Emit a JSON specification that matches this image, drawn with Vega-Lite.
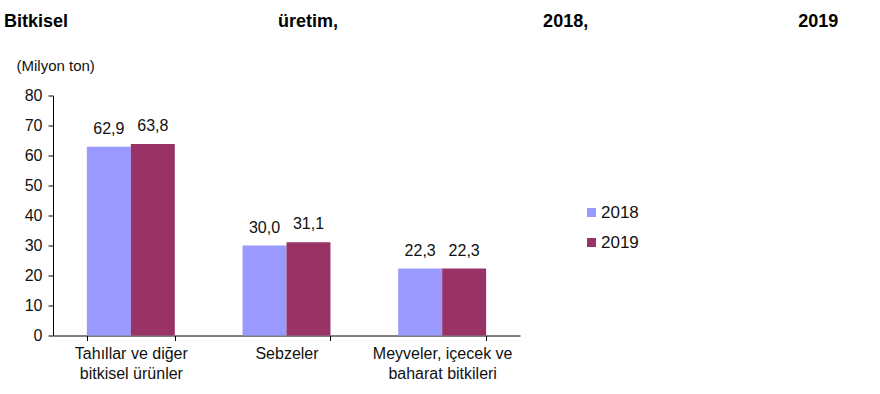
{
  "$schema": "https://vega.github.io/schema/vega-lite/v6.json",
  "width": 467,
  "height": 240,
  "autosize": "none",
  "padding": {"left": 53, "top": 95.5, "right": 360, "bottom": 58.5},
  "background": "white",
  "title": {
    "text": "Bitkisel\u00a0\u00a0\u00a0\u00a0\u00a0\u00a0\u00a0\u00a0\u00a0\u00a0\u00a0\u00a0\u00a0\u00a0\u00a0\u00a0\u00a0\u00a0\u00a0\u00a0\u00a0\u00a0\u00a0\u00a0\u00a0\u00a0\u00a0\u00a0\u00a0\u00a0\u00a0\u00a0\u00a0\u00a0\u00a0\u00a0\u00a0\u00a0\u00a0\u00a0\u00a0\u00a0üretim,\u00a0\u00a0\u00a0\u00a0\u00a0\u00a0\u00a0\u00a0\u00a0\u00a0\u00a0\u00a0\u00a0\u00a0\u00a0\u00a0\u00a0\u00a0\u00a0\u00a0\u00a0\u00a0\u00a0\u00a0\u00a0\u00a0\u00a0\u00a0\u00a0\u00a0\u00a0\u00a0\u00a0\u00a0\u00a0\u00a0\u00a0\u00a0\u00a0\u00a0\u00a02018,\u00a0\u00a0\u00a0\u00a0\u00a0\u00a0\u00a0\u00a0\u00a0\u00a0\u00a0\u00a0\u00a0\u00a0\u00a0\u00a0\u00a0\u00a0\u00a0\u00a0\u00a0\u00a0\u00a0\u00a0\u00a0\u00a0\u00a0\u00a0\u00a0\u00a0\u00a0\u00a0\u00a0\u00a0\u00a0\u00a0\u00a0\u00a0\u00a0\u00a0\u00a0\u00a02019",
    "anchor": "start",
    "frame": "group",
    "font": "Liberation Sans",
    "fontSize": 18,
    "fontWeight": "bold",
    "color": "#000000",
    "dx": -49,
    "offset": 27
  },
  "data": {
    "values": [
      {"cat": "Tahıllar ve diğer|bitkisel ürünler", "year": "2018", "value": 62.9, "label": "62,9"},
      {"cat": "Tahıllar ve diğer|bitkisel ürünler", "year": "2019", "value": 63.8, "label": "63,8"},
      {"cat": "Sebzeler", "year": "2018", "value": 30.0, "label": "30,0"},
      {"cat": "Sebzeler", "year": "2019", "value": 31.1, "label": "31,1"},
      {"cat": "Meyveler, içecek ve|baharat bitkileri", "year": "2018", "value": 22.3, "label": "22,3"},
      {"cat": "Meyveler, içecek ve|baharat bitkileri", "year": "2019", "value": 22.3, "label": "22,3"}
    ]
  },
  "encoding": {
    "x": {
      "field": "cat",
      "type": "nominal",
      "sort": ["Tahıllar ve diğer|bitkisel ürünler", "Sebzeler", "Meyveler, içecek ve|baharat bitkileri"],
      "scale": {"paddingInner": 0.435, "paddingOuter": 0.2175},
      "axis": {
        "title": null,
        "labelAngle": 0,
        "labelExpr": "split(datum.label, '|')",
        "tickBand": "extent",
        "labelFontSize": 16,
        "labelLineHeight": 20,
        "labelPadding": 5,
        "tickSize": 5,
        "domainColor": "#000000",
        "tickColor": "#000000",
        "labelColor": "#111111",
        "labelFont": "Liberation Sans"
      }
    },
    "xOffset": {"field": "year", "type": "nominal", "scale": {"paddingInner": 0, "paddingOuter": 0}},
    "y": {
      "field": "value",
      "type": "quantitative",
      "scale": {"domain": [0, 80], "nice": false},
      "axis": {
        "values": [0, 10, 20, 30, 40, 50, 60, 70, 80],
        "grid": false,
        "title": "(Milyon ton)",
        "titleAngle": 0,
        "titleAlign": "left",
        "titleBaseline": "middle",
        "titleX": -37,
        "titleY": -30.5,
        "titleFont": "Liberation Sans",
        "titleFontSize": 15,
        "titleFontWeight": "normal",
        "titleColor": "#111111",
        "labelFontSize": 16,
        "labelPadding": 6,
        "labelFont": "Liberation Sans",
        "labelColor": "#111111",
        "tickSize": 5,
        "domainColor": "#000000",
        "tickColor": "#000000"
      }
    }
  },
  "layer": [
    {
      "mark": {"type": "bar"},
      "encoding": {
        "color": {
          "field": "year",
          "type": "nominal",
          "scale": {"domain": ["2018", "2019"], "range": ["#9999FF", "#993366"]},
          "legend": {
            "title": null,
            "orient": "none",
            "legendX": 530,
            "legendY": 108.5,
            "symbolType": "square",
            "symbolSize": 81,
            "symbolStrokeWidth": 0,
            "labelFontSize": 17,
            "labelFont": "Liberation Sans",
            "labelColor": "#111111",
            "labelOffset": 1,
            "rowPadding": 12,
            "padding": 0
          }
        }
      }
    },
    {
      "mark": {"type": "text", "baseline": "bottom", "dy": -10, "fontSize": 16, "font": "Liberation Sans", "color": "#111111"},
      "encoding": {"text": {"field": "label"}}
    }
  ],
  "config": {"view": {"stroke": null}, "font": "Liberation Sans"}
}
